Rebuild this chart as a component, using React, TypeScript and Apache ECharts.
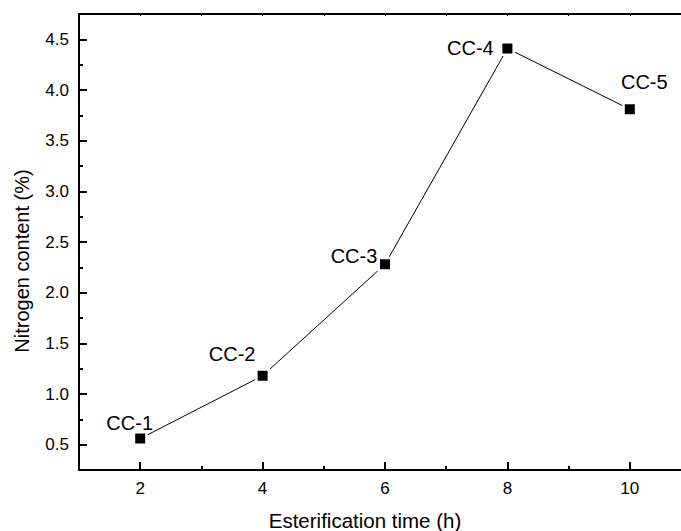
import React, { useEffect, useRef } from "react";
import * as echarts from "echarts";

const times = [2, 4, 6, 8, 10];
const nitrogen = [0.56, 1.18, 2.28, 4.41, 3.81];
const sampleNames = ["CC-1", "CC-2", "CC-3", "CC-4", "CC-5"];
const xMajorTicks = [2, 4, 6, 8, 10];
const xMinorTicks = [3, 5, 7, 9];
const yMajorTicks = [0.5, 1.0, 1.5, 2.0, 2.5, 3.0, 3.5, 4.0, 4.5];
const yMinorTicks = [0.75, 1.25, 1.75, 2.25, 2.75, 3.25, 3.75, 4.25];

// label placement (layout, not data)
const labelOffsets = [
  [-10.5, -16],
  [-30.5, -21.5],
  [-31, -8],
  [-37, -0.5],
  [14.5, -27.5],
];

const FONT = "'Liberation Sans', Arial, Helvetica, sans-serif";

export default function App() {
  const ref = useRef<HTMLDivElement>(null);

  useEffect(() => {
    if (!ref.current) return;
    const chart = echarts.init(ref.current, undefined, { renderer: "svg" });
    const axisLine = { show: true, onZero: false, lineStyle: { color: "#000", width: 2 } };
    const xRange = { type: "value" as const, min: 1, max: 11 };
    const yRange = { type: "value" as const, min: 0.25, max: 4.75 };

    const option: any = {
      animation: false,
      backgroundColor: "#fff",
      grid: { left: 79, top: 14, right: 9, bottom: 61, containLabel: false },
      xAxis: [
        {
          ...xRange,
          position: "bottom",
          axisLine,
          axisTick: {
            show: true,
            inside: true,
            length: 8,
            customValues: xMajorTicks,
            lineStyle: { color: "#000", width: 2 },
          },
          axisLabel: {
            show: true,
            customValues: xMajorTicks,
            margin: 10,
            color: "#000",
            fontSize: 17,
            fontFamily: FONT,
            formatter: (v: number) => String(v),
          },
          splitLine: { show: false },
        },
        {
          ...xRange,
          position: "bottom",
          axisLine: { show: false },
          axisTick: {
            show: true,
            inside: true,
            length: 4,
            customValues: xMinorTicks,
            lineStyle: { color: "#000", width: 2 },
          },
          axisLabel: { show: false },
          splitLine: { show: false },
        },
        {
          ...xRange,
          interval: 1,
          position: "top",
          axisLine,
          axisTick: { show: true, inside: true, length: 2, lineStyle: { color: "#000", width: 1 } },
          axisLabel: { show: false },
          splitLine: { show: false },
        },
      ],
      yAxis: [
        {
          ...yRange,
          position: "left",
          axisLine,
          axisTick: {
            show: true,
            inside: true,
            length: 8,
            customValues: yMajorTicks,
            lineStyle: { color: "#000", width: 2 },
          },
          axisLabel: {
            show: true,
            customValues: yMajorTicks,
            margin: 10,
            color: "#000",
            fontSize: 17,
            fontFamily: FONT,
            formatter: (v: number) => v.toFixed(1),
          },
          splitLine: { show: false },
        },
        {
          ...yRange,
          position: "left",
          axisLine: { show: false },
          axisTick: {
            show: true,
            inside: true,
            length: 4,
            customValues: yMinorTicks,
            lineStyle: { color: "#000", width: 2 },
          },
          axisLabel: { show: false },
          splitLine: { show: false },
        },
      ],
      series: [
        {
          type: "line",
          xAxisIndex: 0,
          yAxisIndex: 0,
          symbol: "rect",
          symbolSize: 12.5,
          lineStyle: { color: "#000", width: 1 },
          itemStyle: { color: "#000", borderColor: "#fff", borderWidth: 2.5 },
          data: times.map((t, i) => ({
            value: [t, nitrogen[i]],
            name: sampleNames[i],
            label: {
              show: true,
              position: "inside",
              offset: labelOffsets[i],
              formatter: sampleNames[i],
              align: "center",
              verticalAlign: "middle",
              color: "#000",
              fontSize: 20,
              fontFamily: FONT,
            },
          })),
          emphasis: { disabled: true },
        },
      ],
      graphic: [
        {
          type: "text",
          x: 365,
          y: 520,
          style: {
            text: "Esterification time (h)",
            fill: "#000",
            font: `20.5px ${FONT}`,
            align: "center",
            verticalAlign: "middle",
          },
        },
        {
          type: "text",
          x: 22,
          y: 261,
          rotation: Math.PI / 2,
          style: {
            text: "Nitrogen content (%)",
            fill: "#000",
            font: `20px ${FONT}`,
            align: "center",
            verticalAlign: "middle",
          },
        },
      ],
    };
    chart.setOption(option);
    return () => chart.dispose();
  }, []);

  return (
    <div
      style={{
        position: "fixed",
        left: 0,
        top: 0,
        width: 681,
        height: 531,
        overflow: "hidden",
        background: "#fff",
      }}
    >
      <div ref={ref} style={{ width: 700, height: 531 }} />
    </div>
  );
}
